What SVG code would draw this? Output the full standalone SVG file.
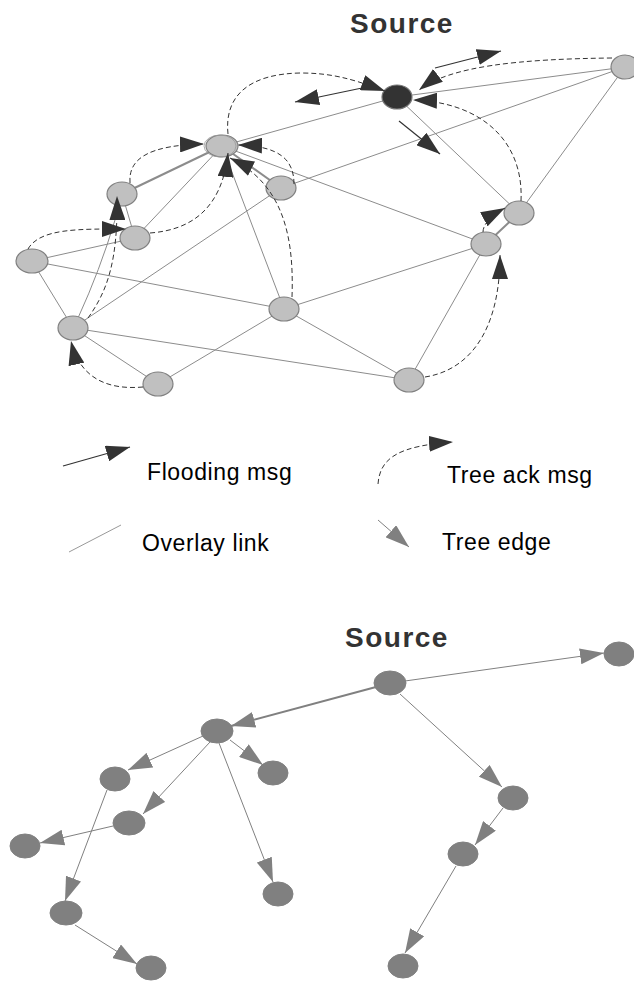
<svg xmlns="http://www.w3.org/2000/svg" width="634" height="981" viewBox="0 0 634 981">
<style>
.lnk{stroke:#8c8c8c;stroke-width:1;fill:none}
.lnk2{stroke:#8c8c8c;stroke-width:2;fill:none}
.ack{stroke:#333;stroke-width:1;stroke-dasharray:5,3;fill:none}
.fld{stroke:#333;stroke-width:1.2;fill:none}
.te{stroke:#808080;stroke-width:1;fill:none}
.n{fill:#c0c0c0;stroke:#808080;stroke-width:1.2}
.ns{fill:#333;stroke:#777;stroke-width:1.2}
.tn{fill:#808080;stroke:#808080;stroke-width:1}
.title{font-family:"Liberation Sans",Arial,sans-serif;font-weight:bold;font-size:28px;letter-spacing:1.5px;fill:#333}
.lab{font-family:"Liberation Sans",Arial,sans-serif;font-size:23px;letter-spacing:0.6px;fill:#000}
</style>
<defs>
<marker id="fa" markerUnits="userSpaceOnUse" markerWidth="24" markerHeight="16" viewBox="0 0 24 16" refX="24" refY="8" orient="auto">
<path d="M0,0 L24,8 L0,16 z" fill="#333"/>
</marker>
<marker id="ta" markerUnits="userSpaceOnUse" markerWidth="24" markerHeight="16" viewBox="0 0 24 16" refX="24" refY="8" orient="auto">
<path d="M0,0 L24,8 L0,16 z" fill="#808080"/>
</marker>
</defs>
<rect width="634" height="981" fill="#fff"/>

<text class="title" x="350" y="33">Source</text>

<g id="overlay-links">
<line class="lnk" x1="397" y1="97" x2="625" y2="67"/>
<line class="lnk" x1="397" y1="97" x2="222" y2="146"/>
<line class="lnk" x1="397" y1="97" x2="519" y2="213"/>
<line class="lnk" x1="625" y1="67" x2="281" y2="188"/>
<line class="lnk" x1="625" y1="67" x2="519" y2="213"/>
<line class="lnk2" x1="222" y1="146" x2="122" y2="194"/>
<line class="lnk" x1="222" y1="146" x2="135" y2="238"/>
<line class="lnk2" x1="222" y1="146" x2="281" y2="188"/>
<line class="lnk" x1="222" y1="146" x2="284" y2="309"/>
<line class="lnk" x1="222" y1="146" x2="486" y2="244"/>
<line class="lnk" x1="281" y1="188" x2="73" y2="328"/>
<line class="lnk" x1="122" y1="194" x2="135" y2="238"/>
<line class="lnk" x1="32" y1="261" x2="135" y2="238"/>
<line class="lnk" x1="32" y1="261" x2="73" y2="328"/>
<line class="lnk" x1="32" y1="261" x2="284" y2="309"/>
<line class="lnk" x1="73" y1="328" x2="158" y2="384"/>
<line class="lnk" x1="73" y1="328" x2="409" y2="380"/>
<line class="lnk" x1="158" y1="384" x2="284" y2="309"/>
<line class="lnk" x1="284" y1="309" x2="486" y2="244"/>
<line class="lnk" x1="284" y1="309" x2="409" y2="380"/>
<line class="lnk" x1="409" y1="380" x2="486" y2="244"/>
<line class="lnk2" x1="486" y1="244" x2="519" y2="213"/>
<path class="lnk" d="M78,318 Q100,270 115,220"/>
</g>

<g id="node-S"><ellipse class="ns" cx="397" cy="97" rx="15" ry="12"/></g>
<g id="node-R"><ellipse class="n" cx="625" cy="67" rx="14" ry="12"/></g>
<g id="node-A"><ellipse class="n" cx="222" cy="146" rx="16" ry="11"/><ellipse fill="none" stroke="#999" stroke-width="0.8" cx="220" cy="146" rx="16" ry="11"/></g>
<g id="node-B"><ellipse class="n" cx="281" cy="188" rx="15" ry="12"/></g>
<g id="node-C"><ellipse class="n" cx="122" cy="194" rx="15" ry="12"/></g>
<g id="node-D"><ellipse class="n" cx="135" cy="238" rx="15" ry="12"/></g>
<g id="node-E"><ellipse class="n" cx="32" cy="261" rx="16" ry="12"/></g>
<g id="node-F"><ellipse class="n" cx="73" cy="328" rx="15" ry="12"/></g>
<g id="node-G"><ellipse class="n" cx="158" cy="384" rx="15" ry="12"/></g>
<g id="node-H"><ellipse class="n" cx="284" cy="309" rx="15" ry="12"/></g>
<g id="node-I"><ellipse class="n" cx="409" cy="380" rx="15" ry="12"/></g>
<g id="node-J"><ellipse class="n" cx="486" cy="244" rx="15" ry="12"/></g>
<g id="node-K"><ellipse class="n" cx="519" cy="213" rx="15" ry="12"/></g>

<g id="messages">
<path class="ack" d="M228,134 C224,95 250,74 300,73 C330,73 350,78 385,91" marker-end="url(#fa)"/>
<path class="ack" d="M612,58 C520,59 450,66 419,90" marker-end="url(#fa)"/>
<path class="ack" d="M521,201 C524,140 480,102 413,100" marker-end="url(#fa)"/>
<path class="ack" d="M294,184 C294,160 280,146 238,145" marker-end="url(#fa)"/>
<path class="ack" d="M130,183 C128,158 150,145 204,144" marker-end="url(#fa)"/>
<path class="ack" d="M150,233 C190,230 222,210 228,153" marker-end="url(#fa)"/>
<path class="ack" d="M292,297 C294,240 285,185 230,158" marker-end="url(#fa)"/>
<path class="ack" d="M28,249 C40,228 80,229 126,229" marker-end="url(#fa)"/>
<path class="ack" d="M143,387 C110,390 80,380 71,341" marker-end="url(#fa)"/>
<path class="ack" d="M88,318 C108,290 118,260 117,196" marker-end="url(#fa)"/>
<path class="ack" d="M483,232 C483,225 490,216 505,208" marker-end="url(#fa)"/>
<path class="ack" d="M425,377 C470,370 500,330 500,255" marker-end="url(#fa)"/>
<path class="fld" d="M362,88 L295,102" marker-end="url(#fa)"/>
<path class="fld" d="M435,68 L501,51" marker-end="url(#fa)"/>
<path class="fld" d="M399,121 L440,154" marker-end="url(#fa)"/>
</g>

<g id="legend">
<path class="fld" d="M63,466 L130,447" marker-end="url(#fa)"/>
<text class="lab" x="147" y="480">Flooding msg</text>
<path class="ack" d="M378,484 C380,458 398,446 453,442" marker-end="url(#fa)"/>
<text class="lab" x="447" y="483">Tree ack msg</text>
<line x1="69" y1="552" x2="121" y2="525" stroke="#999" stroke-width="1"/>
<text class="lab" x="142" y="551">Overlay link</text>
<path class="te" d="M378,520 L409,547" marker-end="url(#ta)"/>
<text class="lab" x="442" y="550">Tree edge</text>
</g>

<text class="title" x="345" y="647">Source</text>

<g id="tree-edges">
<path class="te" style="stroke-width:2" d="M376,687 L231,726" marker-end="url(#ta)"/>
<path class="te" d="M405,681 L604,653" marker-end="url(#ta)"/>
<path class="te" d="M400,694 L502,787" marker-end="url(#ta)"/>
<path class="te" d="M203,736 L128,770" marker-end="url(#ta)"/>
<path class="te" d="M230,740 L263,765" marker-end="url(#ta)"/>
<path class="te" d="M210,742 L143,814" marker-end="url(#ta)"/>
<path class="te" d="M219,743 L273,882" marker-end="url(#ta)"/>
<path class="te" d="M107,790 L65,901" marker-end="url(#ta)"/>
<path class="te" d="M113,826 L40,843" marker-end="url(#ta)"/>
<path class="te" d="M75,925 L137,964" marker-end="url(#ta)"/>
<path class="te" d="M503,808 L475,845" marker-end="url(#ta)"/>
<path class="te" d="M456,866 L405,953" marker-end="url(#ta)"/>
</g>

<g id="t-source"><ellipse class="tn" cx="390" cy="683" rx="16" ry="12"/></g>
<g id="t-2"><ellipse class="tn" cx="619" cy="654" rx="15" ry="12"/></g>
<g id="t-3"><ellipse class="tn" cx="217" cy="731" rx="16" ry="12"/></g>
<g id="t-4"><ellipse class="tn" cx="115" cy="779" rx="15" ry="12"/></g>
<g id="t-5"><ellipse class="tn" cx="273" cy="773" rx="15" ry="12"/></g>
<g id="t-6"><ellipse class="tn" cx="129" cy="823" rx="16" ry="12"/></g>
<g id="t-7"><ellipse class="tn" cx="25" cy="846" rx="15" ry="12"/></g>
<g id="t-8"><ellipse class="tn" cx="278" cy="894" rx="15" ry="12"/></g>
<g id="t-9"><ellipse class="tn" cx="66" cy="913" rx="16" ry="12"/></g>
<g id="t-10"><ellipse class="tn" cx="151" cy="968" rx="15" ry="12"/></g>
<g id="t-11"><ellipse class="tn" cx="513" cy="798" rx="15" ry="12"/></g>
<g id="t-12"><ellipse class="tn" cx="463" cy="854" rx="15" ry="12"/></g>
<g id="t-13"><ellipse class="tn" cx="403" cy="966" rx="15" ry="12"/></g>
</svg>
